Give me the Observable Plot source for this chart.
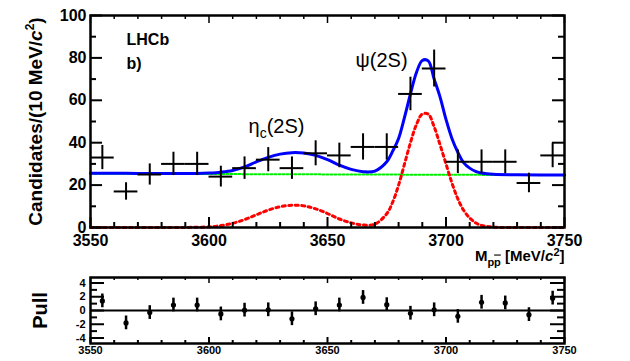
<!DOCTYPE html>
<html><head><meta charset="utf-8">
<script src="https://cdn.jsdelivr.net/npm/d3@7"></script>
<script src="https://cdn.jsdelivr.net/npm/@observablehq/plot@0.6"></script>
<style>
body{margin:0;background:#fff;}
#wrap{position:relative;width:630px;height:361px;background:#fff;}
#main{position:absolute;left:0;top:0}
#pull{position:absolute;left:0;top:262px}
</style></head><body><div id="wrap"><div id="main"></div><div id="pull"></div></div>
<script>
// ---- data ----
const binCenters = [3555,3565,3575,3585,3595,3605,3615,3625,3635,3645,3655,3665,3675,3685,3695,3705,3715,3725,3735,3745];
const counts     = [33,17,25,30,30,24,28,32,28,35,34,38,38,63,75,31,31,31,21,34];
const countErrs  = [5.7,4.1,5.0,5.5,5.5,4.9,5.3,5.7,5.3,5.9,5.8,6.2,6.2,7.9,8.7,5.6,5.6,5.6,4.6,5.8];
const pulls      = [1.4,-1.8,-0.3,0.8,0.8,-0.5,0.05,0.1,-1.2,0.25,0.8,1.9,0.85,-0.4,0.1,-0.85,1.2,1.1,-0.6,1.8];
const pullErrs   = [1,1,1,1,1,1,1,1,1,1,1,1,1,1,1,1,1,1,1,1];

const fitMass   = [3550,3560,3570,3580,3590,3595,3600,3605,3610,3615,3620,3625,3630,3635,3640,3645,3650,3655,3660,3665,3670,3675,3677.5,3680,3682.5,3685,3687.5,3690,3692.5,3695,3697.5,3700,3702.5,3705,3707.5,3710,3712.5,3715,3720,3730,3740,3750];
const fitTotal  = [25.6,25.6,25.5,25.5,25.5,25.5,25.7,26.1,26.9,28.6,31.0,33.1,34.6,35.3,35.1,34.0,32.0,29.4,27.4,26.3,26.6,31,36,42,52,63,73,78.8,78.6,70,61.5,51,42,35.5,30.5,28,26.5,25.7,25.1,24.9,24.8,24.8];
const fitSignal = [0,0,0,0,0.05,0.1,0.3,0.9,2.0,3.7,6.0,8.2,9.8,10.5,10.2,8.8,6.6,4.0,2.2,1.2,1.6,6.5,12,20,30,40,48.5,53.5,53.5,47.5,39,30,21,13.5,8,4.5,2.2,1.0,0.2,0,0,0];
const bkgMass   = [3550,3750];
const bkgLevel  = [25.4,24.7];

const xDomain = [3550,3750];
const yDomain = [0,100];
const pDomain = [-4.8,4.8];
const yMajor = [0,20,40,60,80,100];
const yMinor = [10,30,50,70,90];
const xMajor = [3550,3600,3650,3700,3750];
const xMinor = [3560,3570,3580,3590,3610,3620,3630,3640,3660,3670,3680,3690,3710,3720,3730,3740];
const pMajor = [-4,-2,0,2,4];
const pMinor = [-3,-1,1,3];
const halfBin = 5;

const FONT = "'Liberation Sans', Arial, Helvetica, sans-serif";

const data = binCenters.map((m,i)=>({m, n:counts[i], e:countErrs[i], p:pulls[i], pe:pullErrs[i]}));
const fit = fitMass.map((m,i)=>({m, total:fitTotal[i], sig:fitSignal[i]}));
const bkg = bkgMass.map((m,i)=>({m, v:bkgLevel[i]}));

// layout
const W = 630, mL = 90, mR = 66;
const H1 = 262, mT1 = 15, mB1 = 35;
const H2 = 99, mT2 = 15, mB2 = 18;
const PW = W - mL - mR, PH1 = H1 - mT1 - mB1, PH2 = H2 - mT2 - mB2;

// inward frame ticks drawn as short rules; lengths given in pixels, converted to data units
function frameTicks(xd, yd, ph, yMaj, yMin, xMaj, xMin, yL, yS, xL, xS, xTL, xTS) {
  const kx = (xd[1] - xd[0]) / PW, ky = (yd[1] - yd[0]) / ph;
  const st = {stroke:"black", strokeWidth:2};
  const st2 = {stroke:"black", strokeWidth:1.5};
  return [
    Plot.ruleY(yMaj, {y:d=>d, x1:xd[0], x2:xd[0] + yL*kx, ...st}),
    Plot.ruleY(yMin, {y:d=>d, x1:xd[0], x2:xd[0] + yS*kx, ...st}),
    Plot.ruleY(yMaj, {y:d=>d, x1:xd[1] - yL*kx, x2:xd[1], ...st}),
    Plot.ruleY(yMin, {y:d=>d, x1:xd[1] - yS*kx, x2:xd[1], ...st}),
    Plot.ruleX(xMaj, {x:d=>d, y1:yd[0], y2:yd[0] + xL*ky, ...st}),
    Plot.ruleX(xMin, {x:d=>d, y1:yd[0], y2:yd[0] + xS*ky, ...st}),
    Plot.ruleX(xMaj, {x:d=>d, y1:yd[1] - xTL*ky, y2:yd[1], ...st2}),
    Plot.ruleX(xMin, {x:d=>d, y1:yd[1] - xTS*ky, y2:yd[1], ...st2})
  ];
}

const main = Plot.plot({
  width:W, height:H1, marginLeft:mL, marginRight:mR, marginTop:mT1, marginBottom:mB1,
  style:{fontFamily:FONT, background:"white", overflow:"visible", color:"black"},
  x:{domain:xDomain, axis:null},
  y:{domain:yDomain, axis:null},
  marks:[
    Plot.line(bkg, {x:"m", y:"v", stroke:"#00ee00", strokeWidth:2, strokeDasharray:"2,2"}),
    Plot.line(fit, {x:"m", y:"sig", stroke:"#ff0000", strokeWidth:3, strokeDasharray:"3,3.5", curve:"catmull-rom"}),
    Plot.line(fit, {x:"m", y:"total", stroke:"#0000ff", strokeWidth:3, curve:"catmull-rom"}),
    Plot.ruleY(data, {y:"n", x1:d=>d.m-halfBin, x2:d=>d.m+halfBin, stroke:"black", strokeWidth:2}),
    Plot.ruleX(data, {x:"m", y1:d=>d.n-d.e, y2:d=>d.n+d.e, stroke:"black", strokeWidth:2}),
    ...frameTicks(xDomain, yDomain, PH1, yMajor, yMinor, xMajor, xMinor, 12, 6, 10, 5, 8, 4),
    Plot.axisY({ticks:yMajor, tickSize:0, tickPadding:4, label:null, fontSize:16, fontWeight:"bold"}),
    Plot.axisX({ticks:xMajor, tickSize:0, tickPadding:7, label:null, fontSize:16, fontWeight:"bold", tickFormat:d=>String(d)}),
    Plot.frame({stroke:"black", strokeWidth:2.5}),
    Plot.text(["LHCb"], {frameAnchor:"top-left", dx:36, dy:24, text:d=>d, textAnchor:"start", lineAnchor:"middle", fontSize:16, fontWeight:"bold"}),
    Plot.text(["b)"], {frameAnchor:"top-left", dx:36, dy:48, text:d=>d, textAnchor:"start", lineAnchor:"middle", fontSize:16, fontWeight:"bold"}),
    Plot.text(["ETA_LABEL"], {frameAnchor:"top-left", dx:158, dy:111, text:d=>d, textAnchor:"start", lineAnchor:"middle", fontSize:20}),
    Plot.text(["ψ(2S)"], {frameAnchor:"top-left", dx:265, dy:45, text:d=>d, textAnchor:"start", lineAnchor:"middle", fontSize:20}),
    Plot.text(["YLABEL"], {frameAnchor:"left", dx:-55, dy:0, rotate:-90, text:d=>d, textAnchor:"middle", lineAnchor:"middle", fontSize:19, fontWeight:"bold"}),
    Plot.text(["XLABEL"], {frameAnchor:"bottom-right", dy:33, text:d=>d, textAnchor:"end", lineAnchor:"bottom", fontSize:15, fontWeight:"bold"})
  ]
});

const pull = Plot.plot({
  width:W, height:H2, marginLeft:mL, marginRight:mR, marginTop:mT2, marginBottom:mB2,
  style:{fontFamily:FONT, background:"transparent", overflow:"visible", color:"black"},
  x:{domain:xDomain, axis:null},
  y:{domain:pDomain, axis:null},
  marks:[
    Plot.ruleY([0], {stroke:"black", strokeWidth:2}),
    Plot.ruleX(data, {x:"m", y1:d=>d.p-d.pe, y2:d=>d.p+d.pe, stroke:"black", strokeWidth:2.5}),
    Plot.dot(data, {x:"m", y:"p", r:2.6, fill:"black", stroke:"none"}),
    ...frameTicks(xDomain, pDomain, PH2, pMajor, pMinor, xMajor, xMinor, 14, 7, 6, 3, 6, 3),
    Plot.axisY({ticks:pMajor, tickSize:0, tickPadding:5, label:null, fontSize:11, fontWeight:"bold", tickFormat:d=>String(d)}),
    Plot.axisX({ticks:xMajor, tickSize:0, tickPadding:3, label:null, fontSize:11, fontWeight:"bold", tickFormat:d=>String(d)}),
    Plot.frame({stroke:"black", strokeWidth:2.5}),
    Plot.text(["Pull"], {frameAnchor:"left", dx:-50, rotate:-90, text:d=>d, textAnchor:"middle", lineAnchor:"middle", fontSize:20, fontWeight:"bold"})
  ]
});

document.getElementById("main").appendChild(main);
document.getElementById("pull").appendChild(pull);

// rich text replacements
d3.select(main).selectAll("text").each(function(){
  const t = this.textContent;
  if (t === "ETA_LABEL") this.innerHTML = 'η<tspan dy="5" font-size="14">c</tspan><tspan dy="-5">(2S)</tspan>';
  if (t === "YLABEL") this.innerHTML = 'Candidates/(10 MeV/<tspan font-style="italic">c</tspan><tspan dy="-8" font-size="12">2</tspan><tspan dy="8">)</tspan>';
  if (t === "XLABEL") this.innerHTML = 'M<tspan dy="5" font-size="11">p</tspan><tspan font-size="11" text-decoration="overline">p</tspan><tspan dy="-5"> [MeV/</tspan><tspan font-style="italic">c</tspan><tspan dy="-5" font-size="11">2</tspan><tspan dy="5">]</tspan>';
});
</script>
</body></html>
